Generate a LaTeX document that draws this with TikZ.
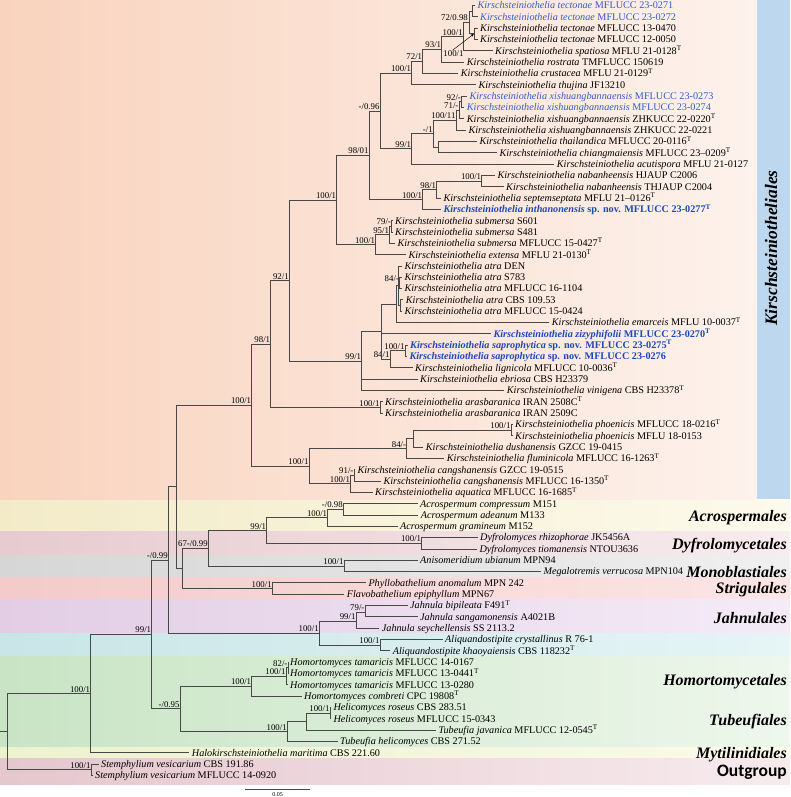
\documentclass[tikz,border=0pt]{standalone}
\usepackage{fontspec}
\setmainfont{Liberation Serif}
\newfontfamily\carl{Carlito}
\usetikzlibrary{arrows.meta}
\definecolor{tline}{RGB}{72,72,72}
\definecolor{sblue}{RGB}{52,92,205}
\definecolor{nblue}{RGB}{28,72,190}
\definecolor{kbox}{RGB}{189,215,238}
\definecolor{pkL}{RGB}{249,211,190}\definecolor{pkR}{RGB}{253,242,236}
\definecolor{yeL}{RGB}{243,235,200}\definecolor{yeR}{RGB}{252,250,236}
\definecolor{dyL}{RGB}{230,203,208}\definecolor{dyR}{RGB}{248,236,238}
\definecolor{grL}{RGB}{214,214,214}\definecolor{grR}{RGB}{240,240,240}
\definecolor{stL}{RGB}{244,202,202}\definecolor{stR}{RGB}{252,230,230}
\definecolor{puL}{RGB}{226,205,229}\definecolor{puR}{RGB}{245,235,247}
\definecolor{cyL}{RGB}{201,229,231}\definecolor{cyR}{RGB}{230,245,245}
\definecolor{gnL}{RGB}{200,228,196}\definecolor{gnR}{RGB}{238,247,236}
\definecolor{lyL}{RGB}{236,242,206}\definecolor{lyR}{RGB}{250,251,234}
\definecolor{mvL}{RGB}{229,199,206}\definecolor{mvR}{RGB}{247,235,238}
\newcommand\Ki[1]{\textit{Kirschsteiniothelia #1}}
\newcommand\Tm{\textsuperscript{T}}
\newcommand\leafn[5][]{\node[leaf,#1] (#2) at (#3,#4) {#5};}
\newcommand\inode[4]{\coordinate (#1) at (#2,#3); \node[blab] (#1l) at (#1) {#4};}
\newcommand\brn[2]{\draw[tl] (#1) |- (#2);}
\newcommand\brl[2]{\draw[tl] (#1) |- (#2.west);}
\begin{document}
\begin{tikzpicture}[x=1pt,y=-1pt,
  leaf/.style={anchor=west,xshift=-2.5pt,inner xsep=2.5pt,inner ysep=0pt,text height=6.8pt,text depth=0pt,font=\fontsize{10.2}{11}\selectfont},
  sb/.style={text=sblue},
  nb/.style={text=nblue,font=\fontsize{10.2}{11}\selectfont\bfseries},
  blab/.style={anchor=south east,xshift=-0.4pt,yshift=1.2pt,inner sep=0pt,text height=6pt,text depth=0pt,font=\fontsize{8.8}{9}\selectfont},
  lab2/.style={inner sep=0pt,text height=6pt,text depth=0pt,font=\fontsize{8.8}{9}\selectfont},
  tl/.style={draw=tline,line width=0.75pt},
  ord/.style={anchor=east,inner sep=0pt,text height=11pt,text depth=0pt,font=\fontsize{16}{18}\selectfont\bfseries\itshape}]
\useasboundingbox (0,0) rectangle (790,797);
\fill[white] (0,0) rectangle (790,797);
% background bands
\shade[left color=pkL,right color=pkR] (0,0) rectangle (757,500);
\shade[left color=yeL,right color=yeR] (0,500) rectangle (790,531.8);
\shade[left color=dyL,right color=dyR] (0,531.8) rectangle (790,555.5);
\shade[left color=grL,right color=grR] (0,555.5) rectangle (790,577);
\shade[left color=stL,right color=stR] (0,577) rectangle (790,599.8);
\shade[left color=puL,right color=puR] (0,599.8) rectangle (790,633.8);
\shade[left color=cyL,right color=cyR] (0,633.8) rectangle (790,656.6);
\shade[left color=gnL,right color=gnR] (0,656.6) rectangle (790,747);
\shade[left color=lyL,right color=lyR] (0,747) rectangle (790,758.2);
\shade[left color=mvL,right color=mvR] (0,758.2) rectangle (790,784);
\fill[kbox] (757,0) rectangle (790,499);
\node[rotate=90,inner sep=0pt,text height=12pt,text depth=0pt,font=\fontsize{17.5}{19}\selectfont\bfseries\itshape] (kord) at (771,248) {Kirschsteiniotheliales};
% order labels
\node[ord] (o1) at (787,516) {Acrospermales};
\node[ord] (o2) at (787,544) {Dyfrolomycetales};
\node[ord] (o3) at (787,571.5) {Monoblastiales};
\node[ord] (o4) at (787,587.5) {Strigulales};
\node[ord] (o5) at (787,617.5) {Jahnulales};
\node[ord] (o6) at (787,680) {Homortomycetales};
\node[ord] (o7) at (787,720) {Tubeufiales};
\node[ord] (o8) at (787,753) {Mytilinidiales};
\node[anchor=east,inner sep=0pt,text height=12pt,text depth=0pt,font=\carl\bfseries\fontsize{17.5}{18}\selectfont] (o9) at (787,770) {Outgroup};
% internal nodes
\coordinate (stub) at (0,731.6);
\coordinate (root) at (7.3,731.6);
\inode{A}{90.7}{693.5}{100/1}
\inode{Stm}{91}{769.6}{100/1}
\inode{B}{151.7}{634.3}{99/1}
\inode{C}{168.3}{559.9}{-/0.99}
\inode{D}{180}{708.8}{-/0.95}
\coordinate (E) at (176.7,486.7);
\coordinate (F) at (182.7,568.4);
\inode{G}{208.3}{548.2}{67-/0.99}
\inode{H}{266.7}{530.5}{99/1}
\inode{Acro}{327.7}{517.8}{100/1}
\inode{Acr2}{343.3}{509.3}{-/0.98}
\inode{Dyf}{421.7}{543.2}{100/1}
\inode{Anis}{344}{565.9}{100/1}
\inode{Strig}{272.3}{588.5}{100/1}
\inode{Jahn}{319.3}{633}{100/1}
\inode{J1}{356}{620.9}{99/1}
\inode{J2}{365}{612.2}{79/-}
\inode{Aliq}{380}{645.1}{100/1}
\inode{Hom}{251.7}{686.1}{100/1}
\inode{HT}{286}{676.2}{100/1}
\inode{HTb}{288}{667.8}{82/-}
\inode{Tub}{287.3}{731.4}{100/1}
\coordinate (TH1) at (306.7,721.5);
\inode{Heli}{330}{713}{100/1}
\inode{K0}{251.7}{405}{100/1}
\inode{K1}{270.7}{344}{98/1}
\inode{AR}{380}{407.4}{100/1}
\inode{K2}{289.3}{280.5}{92/1}
\inode{K3}{336.7}{200}{100/1}
\inode{K4}{369}{155.2}{98/01}
\inode{K5}{380}{110.9}{-/0.96}
\inode{K6}{411.7}{73}{100/1}
\inode{K8}{422.7}{61.4}{72/1}
\inode{K9}{441.7}{49.4}{93/1}
\inode{K10}{463.3}{36.6}{100/1}
\coordinate (T0) at (469,22.5);
\coordinate (T1) at (472,11.2);
\coordinate (T2) at (474,33.8);
\node[lab2,anchor=east] (T1l) at (468,17.5) {72/0.98};
\node[lab2] (T2l) at (453.5,53.5) {100/1};
\inode{K7}{411.7}{148.7}{99/1}
\inode{X4}{433.3}{133.5}{-/1}
\inode{X3}{456}{120.1}{100/11}
\inode{X2}{459}{110.2}{71/-}
\inode{X1}{461.5}{101.7}{92/-}
\coordinate (X5) at (438.3,147);
\inode{KN}{422.7}{199.4}{100/1}
\inode{K11}{436.7}{189.4}{98/1}
\inode{NB}{481.7}{181}{100/1}
\inode{KS}{375.7}{244.7}{100/1}
\inode{S2}{389.5}{234.7}{95/1}
\inode{S1}{391.5}{226.3}{79/-}
\inode{KA}{361.7}{361}{99/1}
\coordinate (M1) at (381.7,331.7);
\coordinate (N1) at (396.7,304.1);
\coordinate (AT0) at (398,285.7);
\inode{AT1}{399.5}{282.9}{84/-}
\coordinate (AT2) at (400.5,305.5);
\inode{N3}{390}{359.2}{84/1}
\inode{N2}{405}{350.8}{100/1}
\inode{KL}{309}{466.1}{100/1}
\inode{P0}{406.7}{448.4}{84/-}
\coordinate (P1) at (413.3,438.5);
\inode{P2}{511}{430}{100/1}
\inode{C0}{350.5}{483.8}{100/1}
\inode{C1}{354}{475.3}{91/-}
% leaves
\leafn[sb]{L1}{477.3}{5.5}{\Ki{tectonae} MFLUCC 23-0271}
\leafn[sb]{L2}{480}{16.8}{\Ki{tectonae} MFLUCC 23-0272}
\leafn{L3}{480}{28.1}{\Ki{tectonae} MFLUCC 13-0470}
\leafn{L4}{480}{39.5}{\Ki{tectonae} MFLUCC 12-0050}
\leafn{L5}{495}{50.8}{\Ki{spatiosa} MFLU 21-0128\Tm}
\leafn{L6}{466.7}{62.1}{\Ki{rostrata} TMFLUCC 150619}
\leafn{L7}{460.7}{73.4}{\Ki{crustacea} MFLU 21-0129\Tm}
\leafn{L8}{478.3}{84.7}{\Ki{thujina} JF13210}
\leafn[sb]{L9}{469.3}{96.1}{\Ki{xishuangbannaensis} MFLUCC 23-0273}
\leafn[sb]{L10}{466.7}{107.4}{\Ki{xishuangbannaensis} MFLUCC 23-0274}
\leafn{L11}{466.7}{118.7}{\Ki{xishuangbannaensis} ZHKUCC 22-0220\Tm}
\leafn{L12}{468.3}{130.0}{\Ki{xishuangbannaensis} ZHKUCC 22-0221}
\leafn{L13}{479.3}{141.3}{\Ki{thailandica} MFLUCC 20-0116\Tm}
\leafn{L14}{499.3}{152.6}{\Ki{chiangmaiensis} MFLUCC 23–0209\Tm}
\leafn{L15}{556.7}{164.0}{\Ki{acutispora} MFLU 21-0127}
\leafn{L16}{497.3}{175.3}{\Ki{nabanheensis} HJAUP C2006}
\leafn{L17}{506}{186.6}{\Ki{nabanheensis} THJAUP C2004}
\leafn{L18}{443.3}{197.9}{\Ki{septemseptata} MFLU 21–0126\Tm}
\leafn[nb]{L19}{443.3}{209.3}{\Ki{inthanonensis} sp. nov. MFLUCC 23-0277\Tm}
\leafn{L20}{395}{220.6}{\Ki{submersa} S601}
\leafn{L21}{395}{231.9}{\Ki{submersa} S481}
\leafn{L22}{397.3}{243.2}{\Ki{submersa} MFLUCC 15-0427\Tm}
\leafn{L23}{408.3}{254.6}{\Ki{extensa} MFLU 21-0130\Tm}
\leafn{L24}{404.3}{265.9}{\Ki{atra} DEN}
\leafn{L25}{404.3}{277.2}{\Ki{atra} S783}
\leafn{L26}{404.3}{288.5}{\Ki{atra} MFLUCC 16-1104}
\leafn{L27}{405.7}{299.8}{\Ki{atra} CBS 109.53}
\leafn{L28}{404.3}{311.2}{\Ki{atra} MFLUCC 15-0424}
\leafn{L29}{551.7}{322.5}{\Ki{emarceis} MFLU 10-0037\Tm}
\leafn[nb]{L30}{493.3}{333.8}{\Ki{zizyphifolii} MFLUCC 23-0270\Tm}
\leafn[nb]{L31}{410}{345.1}{\Ki{saprophytica} sp. nov. MFLUCC 23-0275\Tm}
\leafn[nb]{L32}{409.3}{356.4}{\Ki{saprophytica} sp. nov. MFLUCC 23-0276}
\leafn{L33}{415}{367.7}{\Ki{lignicola} MFLUCC 10-0036\Tm}
\leafn{L34}{420}{379.1}{\Ki{ebriosa} CBS H23379}
\leafn{L35}{506.7}{390.4}{\Ki{vinigena} CBS H23378\Tm}
\leafn{L36}{385}{401.7}{\Ki{arasbaranica} IRAN 2508C\Tm}
\leafn{L37}{385}{413.0}{\Ki{arasbaranica} IRAN 2509C}
\leafn{L38}{515}{424.4}{\Ki{phoenicis} MFLUCC 18-0216\Tm}
\leafn{L39}{515}{435.7}{\Ki{phoenicis} MFLU 18-0153}
\leafn{L40}{425.7}{447.0}{\Ki{dushanensis} GZCC 19-0415}
\leafn{L41}{446.7}{458.3}{\Ki{fluminicola} MFLUCC 16-1263\Tm}
\leafn{L42}{357.3}{469.6}{\Ki{cangshanensis} GZCC 19-0515}
\leafn{L43}{383.3}{481.0}{\Ki{cangshanensis} MFLUCC 16-1350\Tm}
\leafn{L44}{375}{492.3}{\Ki{aquatica} MFLUCC 16-1685\Tm}
\leafn{L45}{420}{503.6}{\textit{Acrospermum compressum} M151}
\leafn{L46}{420.7}{514.9}{\textit{Acrospermum adeanum} M133}
\leafn{L47}{400}{526.2}{\textit{Acrospermum gramineum} M152}
\leafn{L48}{480}{537.5}{\textit{Dyfrolomyces rhizophorae} JK5456A}
\leafn{L49}{479.3}{548.9}{\textit{Dyfrolomyces tiomanensis} NTOU3636}
\leafn{L50}{420}{560.2}{\textit{Anisomeridium ubianum} MPN94}
\leafn{L51}{543.3}{571.5}{\textit{Megalotremis verrucosa} MPN104}
\leafn{L52}{368.3}{582.8}{\textit{Phyllobathelium anomalum} MPN 242}
\leafn{L53}{346.7}{594.2}{\textit{Flavobathelium epiphyllum} MPN67}
\leafn{L54}{410}{605.5}{\textit{Jahnula bipileata} F491\Tm}
\leafn{L55}{420}{616.8}{\textit{Jahnula sangamonensis} A4021B}
\leafn{L56}{381.7}{628.1}{\textit{Jahnula seychellensis} SS 2113.2}
\leafn{L57}{445}{639.4}{\textit{Aliquandostipite crystallinus} R 76-1}
\leafn{L58}{392.7}{650.8}{\textit{Aliquandostipite khaoyaiensis} CBS 118232\Tm}
\leafn{L59}{290}{662.1}{\textit{Homortomyces tamaricis} MFLUCC 14-0167}
\leafn{L60}{290}{673.4}{\textit{Homortomyces tamaricis} MFLUCC 13-0441\Tm}
\leafn{L61}{290}{684.7}{\textit{Homortomyces tamaricis} MFLUCC 13-0280}
\leafn{L62}{304}{696.0}{\textit{Homortomyces combreti} CPC 19808\Tm}
\leafn{L63}{333.3}{707.4}{\textit{Helicomyces roseus} CBS 283.51}
\leafn{L64}{333.3}{718.7}{\textit{Helicomyces roseus} MFLUCC 15-0343}
\leafn{L65}{438.3}{730.0}{\textit{Tubeufia javanica} MFLUCC 12-0545\Tm}
\leafn{L66}{340}{741.3}{\textit{Tubeufia helicomyces} CBS 271.52}
\leafn{L67}{191.7}{752.6}{\textit{Halokirschsteiniothelia maritima} CBS 221.60}
\leafn{L68}{101}{764.0}{\textit{Stemphylium vesicarium} CBS 191.86}
\leafn{L69}{95}{775.3}{\textit{Stemphylium vesicarium} MFLUCC 14-0920}
% branches
\draw[tl] (stub) -- (root);
\brn{root}{A}\brn{root}{Stm}
\brl{Stm}{L68}\brl{Stm}{L69}
\brn{A}{B}\brl{A}{L67}
\brn{B}{C}\brn{B}{D}
\brn{C}{E}\brn{C}{Jahn}
\brn{E}{K0}\brn{E}{F}
\brn{F}{G}\brn{F}{Strig}
\brn{G}{H}\brn{G}{Anis}
\brn{H}{Acro}\brn{H}{Dyf}
\brn{Acro}{Acr2}\brl{Acro}{L47}
\brl{Acr2}{L45}\brl{Acr2}{L46}
\brl{Dyf}{L48}\brl{Dyf}{L49}
\brl{Anis}{L50}\brl{Anis}{L51}
\brl{Strig}{L52}\brl{Strig}{L53}
\brn{Jahn}{J1}\brn{Jahn}{Aliq}
\brn{J1}{J2}\brl{J1}{L56}
\brl{J2}{L54}\brl{J2}{L55}
\brl{Aliq}{L57}\brl{Aliq}{L58}
\brn{D}{Hom}\brn{D}{Tub}
\brn{Hom}{HT}\brl{Hom}{L62}
\brn{HT}{HTb}\brl{HT}{L61}
\brl{HTb}{L59}\brl{HTb}{L60}
\brn{Tub}{TH1}\brl{Tub}{L66}
\brn{TH1}{Heli}\brl{TH1}{L65}
\brl{Heli}{L63}\brl{Heli}{L64}
\brn{K0}{K1}\brn{K0}{KL}
\brn{K1}{K2}\brn{K1}{AR}
\brl{AR}{L36}\brl{AR}{L37}
\brn{K2}{K3}\brn{K2}{KA}
\brn{K3}{K4}\brn{K3}{KS}
\brn{K4}{K5}\brn{K4}{KN}
\brn{K5}{K6}\brn{K5}{K7}
\brn{K6}{K8}\brl{K6}{L8}
\brn{K8}{K9}\brl{K8}{L7}
\brn{K9}{K10}\brl{K9}{L6}
\brn{K10}{T0}\brl{K10}{L5}
\brn{T0}{T1}\brn{T0}{T2}
\brl{T1}{L1}\brl{T1}{L2}
\brl{T2}{L3}\brl{T2}{L4}
\draw[line width=0.45pt,-{Stealth[length=3.5pt,width=2.6pt]}] ([xshift=-1pt]T2l.north) -- (T2);
\brn{K7}{X4}\brl{K7}{L15}
\brn{X4}{X3}\brn{X4}{X5}
\brn{X3}{X2}\brl{X3}{L12}
\brn{X2}{X1}\brl{X2}{L11}
\brl{X1}{L9}\brl{X1}{L10}
\brl{X5}{L13}\brl{X5}{L14}
\brn{KN}{K11}\brl{KN}{L19}
\brn{K11}{NB}\brl{K11}{L18}
\brl{NB}{L16}\brl{NB}{L17}
\brn{KS}{S2}\brl{KS}{L23}
\brn{S2}{S1}\brl{S2}{L22}
\brl{S1}{L20}\brl{S1}{L21}
\brn{KA}{M1}\brl{KA}{L34}\brl{KA}{L35}
\brn{M1}{N1}\brl{M1}{L30}\brn{M1}{N3}
\brn{N1}{AT0}\brl{N1}{L29}
\brl{AT0}{L24}\brn{AT0}{AT1}\brn{AT0}{AT2}
\brl{AT1}{L25}\brl{AT1}{L26}
\brl{AT2}{L27}\brl{AT2}{L28}
\brn{N3}{N2}\brl{N3}{L33}
\brl{N2}{L31}\brl{N2}{L32}
\brn{KL}{P0}\brn{KL}{C0}
\brn{P0}{P1}\brl{P0}{L41}
\brn{P1}{P2}\brl{P1}{L40}
\brl{P2}{L38}\brl{P2}{L39}
\brn{C0}{C1}\brl{C0}{L44}
\brl{C1}{L42}\brl{C1}{L43}
% scale bar
\coordinate (sb1) at (245,789.3);
\coordinate (sb2) at (310,789.3);
\draw[tl] (sb1) -- (sb2);
\node[inner sep=0pt,font=\fontsize{6}{6}\selectfont] (sbl) at (277.5,794.3) {0.05};
\end{tikzpicture}
\end{document}
